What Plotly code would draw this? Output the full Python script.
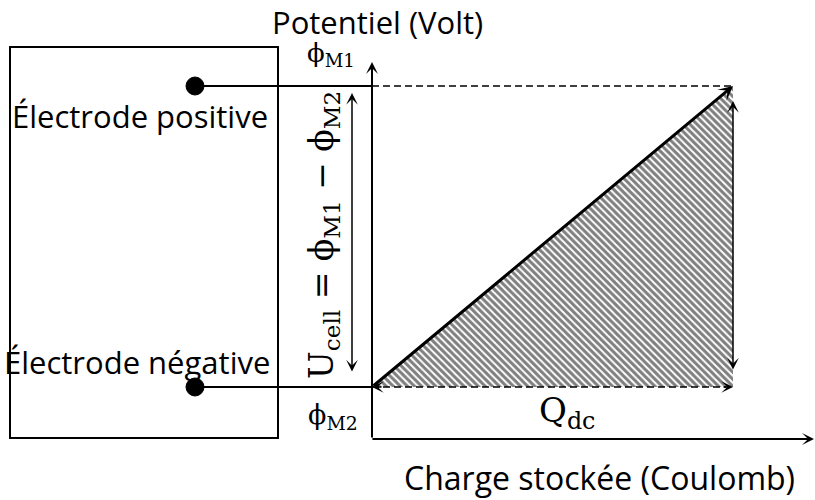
import plotly.graph_objects as go

# ---- data (normalised diagram values) ----
charge = [0.0, 1.0]          # stored charge: 0 -> Q_dc
potential = [0.0, 1.0]       # potential: phi_M2 -> phi_M1
Q_dc = charge[1]
phi_M2 = potential[0]
phi_M1 = potential[1]

axis_title_y = "Potentiel (Volt)"
axis_title_x = "Charge stockée (Coulomb)"
label_pos = "Électrode positive"
label_neg = "Électrode négative"
label_m1 = "ϕ<sub>M1</sub>"
label_m2 = "ϕ<sub>M2</sub>"
label_q = "Q<sub>dc</sub>"
label_u = "U<sub>cell</sub> = ϕ<sub>M1</sub> − ϕ<sub>M2</sub>"

# ---- layout geometry (pixel anchors -> data coords) ----
W, H = 815, 500
PX0, PX1 = 372, 733   # pixels of Q=0 and Q=Q_dc
PY0, PY1 = 387, 86    # pixels of phi_M2 and phi_M1


def X(px):
    return charge[0] + (px - PX0) / (PX1 - PX0) * (Q_dc - charge[0])


def Y(py):
    return phi_M2 + (PY0 - py) / (PY0 - PY1) * (phi_M1 - phi_M2)


SANS = "Open Sans"
SERIF = "DejaVu Serif"
BLACK = "#000000"

fig = go.Figure()

# hatched triangle (area under the charge curve)
fig.add_trace(go.Scatter(
    x=[charge[0], Q_dc, Q_dc, charge[0]],
    y=[phi_M2, phi_M2, phi_M1, phi_M2],
    mode="lines", fill="toself", line=dict(width=0, color="rgba(0,0,0,0)"),
    fillcolor="white",
    fillpattern=dict(shape="\\", fgcolor="#000000", bgcolor="white", size=5, solidity=0.6),
    hoverinfo="skip", showlegend=False,
))

shapes = []
# electrode box
shapes.append(dict(type="rect", xref="x", yref="y", x0=X(10), x1=X(278), y0=Y(438), y1=Y(47),
                   line=dict(color=BLACK, width=2), fillcolor="rgba(0,0,0,0)", layer="above"))
# connection lines from electrodes to the potential axis
shapes.append(dict(type="line", xref="x", yref="y", x0=X(195), x1=charge[0], y0=phi_M1, y1=phi_M1,
                   line=dict(color=BLACK, width=2)))
shapes.append(dict(type="line", xref="x", yref="y", x0=X(195), x1=charge[0], y0=phi_M2, y1=phi_M2,
                   line=dict(color=BLACK, width=2)))
# dots
for yc in (phi_M1, phi_M2):
    cy = PY0 - (yc - phi_M2) / (phi_M1 - phi_M2) * (PY0 - PY1)
    shapes.append(dict(type="circle", xref="x", yref="y", x0=X(186), x1=X(204), y0=Y(cy + 9), y1=Y(cy - 9),
                       line=dict(color=BLACK, width=1), fillcolor=BLACK))
# dashed lines
shapes.append(dict(type="line", xref="x", yref="y", x0=charge[0], x1=Q_dc, y0=phi_M1, y1=phi_M1,
                   line=dict(color=BLACK, width=1.5, dash="7px,4px")))
shapes.append(dict(type="line", xref="x", yref="y", x0=charge[0], x1=X(726), y0=phi_M2, y1=phi_M2,
                   line=dict(color=BLACK, width=1.5, dash="7px,4px")))

ann = []


def arrow(x, y, ax, ay, width, size, both=False):
    d = dict(x=x, y=y, ax=ax, ay=ay, xref="x", yref="y", axref="x", ayref="y",
             text="", showarrow=True, arrowhead=3, arrowsize=size, arrowwidth=width,
             arrowcolor=BLACK, standoff=0)
    if both:
        d.update(arrowside="end+start", startarrowhead=3, startarrowsize=size, startstandoff=0)
    ann.append(d)


# axes
arrow(charge[0], Y(62), charge[0], Y(439), 2, 1.0)
arrow(X(814), Y(439), charge[0] - 0.003, Y(439), 2, 1.0)
# charge curve
arrow(Q_dc, phi_M1, charge[0], phi_M2, 3, 0.8)
# U_cell double arrow
arrow(X(352), Y(93), X(352), Y(373), 1.5, 1.3, both=True)
# right vertical double arrow
arrow(X(733), Y(101), X(733), Y(371), 1.5, 1.3, both=True)
# bottom dashed double arrow heads
arrow(X(733), phi_M2, X(722), phi_M2, 1.5, 1.3)
arrow(X(372), phi_M2, X(383), phi_M2, 1.5, 1.3)


def text(px, py, s, size, family, angle=0):
    ann.append(dict(x=X(px), y=Y(py), xref="x", yref="y", text=s, showarrow=False,
                    font=dict(family=family, size=size, color=BLACK), textangle=angle,
                    xanchor="center", yanchor="middle"))


text(377, 22, axis_title_y, 31, SANS)
text(599, 477, axis_title_x, 32, SANS)
text(140, 116, label_pos, 31, SANS)
text(137, 362, label_neg, 31, SANS)
text(331, 54, label_m1, 26, SERIF)
text(333, 416, label_m2, 27, SERIF)
text(567, 412, label_q, 34, SERIF)
text(323, 235, label_u, 33, SERIF, angle=-90)

fig.update_layout(
    width=W, height=H, margin=dict(l=0, r=0, t=0, b=0),
    paper_bgcolor="white", plot_bgcolor="white",
    xaxis=dict(range=[X(0), X(W)], visible=False, fixedrange=True),
    yaxis=dict(range=[Y(H), Y(0)], visible=False, fixedrange=True),
    shapes=shapes, annotations=ann, showlegend=False,
)

fig.write_html("out.html", config={"displayModeBar": False},
               post_script="document.body.style.margin='0';")
